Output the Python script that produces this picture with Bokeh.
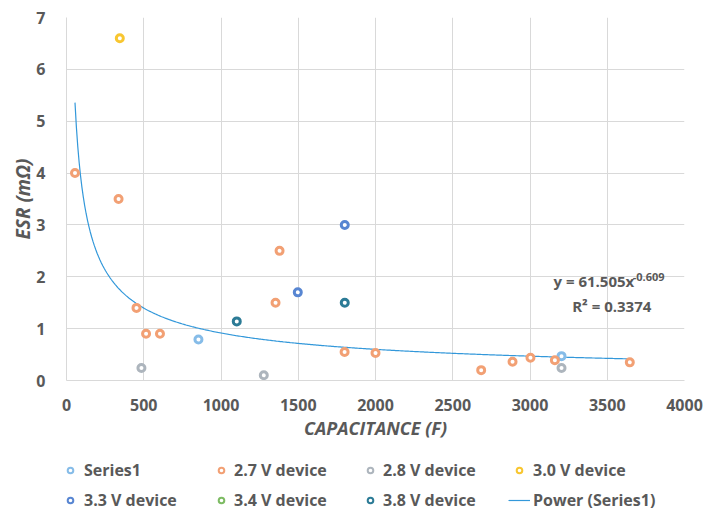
import numpy as np
from bokeh.plotting import figure
from bokeh.layouts import column
from bokeh.models import Range1d, Legend, LegendItem, Label, SingleIntervalTicker
from bokeh.embed import file_html
from bokeh.resources import INLINE

# ---- data ----
series1_x = [854, 3204]
series1_y = [0.79, 0.47]

v27_x = [55, 337, 453, 515, 605, 1379, 1353, 1800, 2000, 2684, 2887, 3003, 3161, 3646]
v27_y = [4.0, 3.5, 1.4, 0.9, 0.9, 2.5, 1.5, 0.55, 0.53, 0.2, 0.36, 0.44, 0.39, 0.35]

v28_x = [485, 1277, 3204]
v28_y = [0.24, 0.1, 0.24]

v30_x = [345]
v30_y = [6.6]

v33_x = [1801, 1497]
v33_y = [3.0, 1.7]

v34_x = []   # no visible points for this series
v34_y = []

v38_x = [1102, 1801]
v38_y = [1.14, 1.5]

# power trendline of Series1, as displayed: y = 61.505 x^-0.609
trend_a = 61.505
trend_b = -0.609
trend_x_range = (55, 3640)
eq_main = "y = 61.505x"
eq_exp = "-0.609"
eq_r2 = "R² = 0.3374"

x_ticks_step = 500
y_ticks_step = 1

series_names = ["Series1", "2.7 V device", "2.8 V device", "3.0 V device",
                "3.3 V device", "3.4 V device", "3.8 V device"]
series_x = [series1_x, v27_x, v28_x, v30_x, v33_x, v34_x, v38_x]
series_y = [series1_y, v27_y, v28_y, v30_y, v33_y, v34_y, v38_y]
series_colors = ["#86BCE8", "#F2A074", "#ADB5BD", "#F8C630", "#5886D2", "#7DBB63", "#2C7B96"]
trend_name = "Power (Series1)"
trend_color = "#3398DA"

FONT = "Open Sans"
TXT = "#595959"
GRID = "#D9D9D9"

p = figure(width=704, height=445,
           x_range=Range1d(0, 4000), y_range=Range1d(0, 7),
           output_backend="svg", toolbar_location=None,
           min_border_left=66, min_border_right=20, min_border_top=17,
           min_border_bottom=65, background_fill_color="white",
           border_fill_color="white")
p.outline_line_color = None

p.xaxis.ticker = SingleIntervalTicker(interval=x_ticks_step)
p.yaxis.ticker = SingleIntervalTicker(interval=y_ticks_step)
for ax in (p.xaxis, p.yaxis):
    ax.axis_line_color = GRID
    ax.major_tick_line_color = None
    ax.minor_tick_line_color = None
    ax.major_tick_out = 0
    ax.major_tick_in = 0
    ax.major_label_text_font = FONT
    ax.major_label_text_font_style = "bold"
    ax.major_label_text_font_size = "16px"
    ax.major_label_text_color = TXT
    ax.axis_label_text_font = FONT
    ax.axis_label_text_font_style = "bold italic"
    ax.axis_label_text_color = TXT
p.xaxis.axis_label = "CAPACITANCE (F)"
p.yaxis.axis_label = "ESR (mΩ)"
p.xaxis.axis_label_text_font_size = "18px"
p.yaxis.axis_label_text_font_size = "19px"
p.xaxis.major_label_standoff = 14
p.yaxis.major_label_standoff = 17
p.xaxis.axis_label_standoff = 2
p.yaxis.axis_label_standoff = -3

p.xgrid.grid_line_color = GRID
p.ygrid.grid_line_color = GRID

# trendline
tx = np.linspace(trend_x_range[0], trend_x_range[1], 400)
ty = trend_a * tx ** trend_b
p.line(tx, ty, line_color=trend_color, line_width=1.2)

for xs, ys, c in zip(series_x, series_y, series_colors):
    p.scatter(xs, ys, marker="circle", size=7, line_width=3,
              line_color=c, fill_color="white")

# equation labels
eq_style = dict(text_font=FONT, text_font_style="bold", text_color=TXT,
                text_baseline="alphabetic")
p.add_layout(Label(x=3152, y=1.928, text=eq_main, text_font_size="15px", **eq_style))
p.add_layout(Label(x=3665, y=1.99, text=eq_exp, text_font_size="11px", **eq_style))
p.add_layout(Label(x=3273, y=1.446, text=eq_r2, text_font_size="15px", **eq_style))

# ---- legend strip below the chart ----
lg = figure(width=704, height=66, output_backend="svg", toolbar_location=None,
            x_axis_location=None, y_axis_location=None,
            min_border=0, background_fill_color="white", border_fill_color="white",
            x_range=Range1d(0, 1), y_range=Range1d(0, 1))
lg.outline_line_color = None
lg.grid.visible = False

leg_renderers = []
for xs, ys, c in zip(series_x, series_y, series_colors):
    lx = xs if len(xs) else [np.nan]
    ly = ys if len(ys) else [np.nan]
    leg_renderers.append(lg.scatter(lx, ly, marker="circle", size=6, line_width=2,
                                    line_color=c, fill_color="white", visible=False))
leg_renderers.append(lg.line(tx, ty, line_color=trend_color, line_width=1.2, visible=False))
labels = series_names + [trend_name]

# (x offset from the frame's left edge, glyph width, standoff) per legend column
col_x = [-3, 148, 297, 442]
col_gw = [14, 14, 14, 22]
col_so = [7, 6, 6, 3]
for ci in range(4):
    items = [LegendItem(label=labels[ci], renderers=[leg_renderers[ci]]),
             LegendItem(label=labels[ci + 4], renderers=[leg_renderers[ci + 4]])]
    L = Legend(items=items, location=(col_x[ci], 0), orientation="vertical")
    L.border_line_color = None
    L.background_fill_alpha = 0
    L.inactive_fill_alpha = 0
    L.label_text_font = FONT
    L.label_text_font_style = "bold"
    L.label_text_font_size = "16px"
    L.label_text_color = TXT
    L.glyph_width = col_gw[ci]
    L.glyph_height = 14
    L.label_height = 18
    L.label_standoff = col_so[ci]
    L.spacing = 8
    L.padding = 0
    L.margin = 0
    lg.add_layout(L)

layout = column(p, lg, spacing=0)
open("out.html", "w").write(file_html(layout, INLINE))
